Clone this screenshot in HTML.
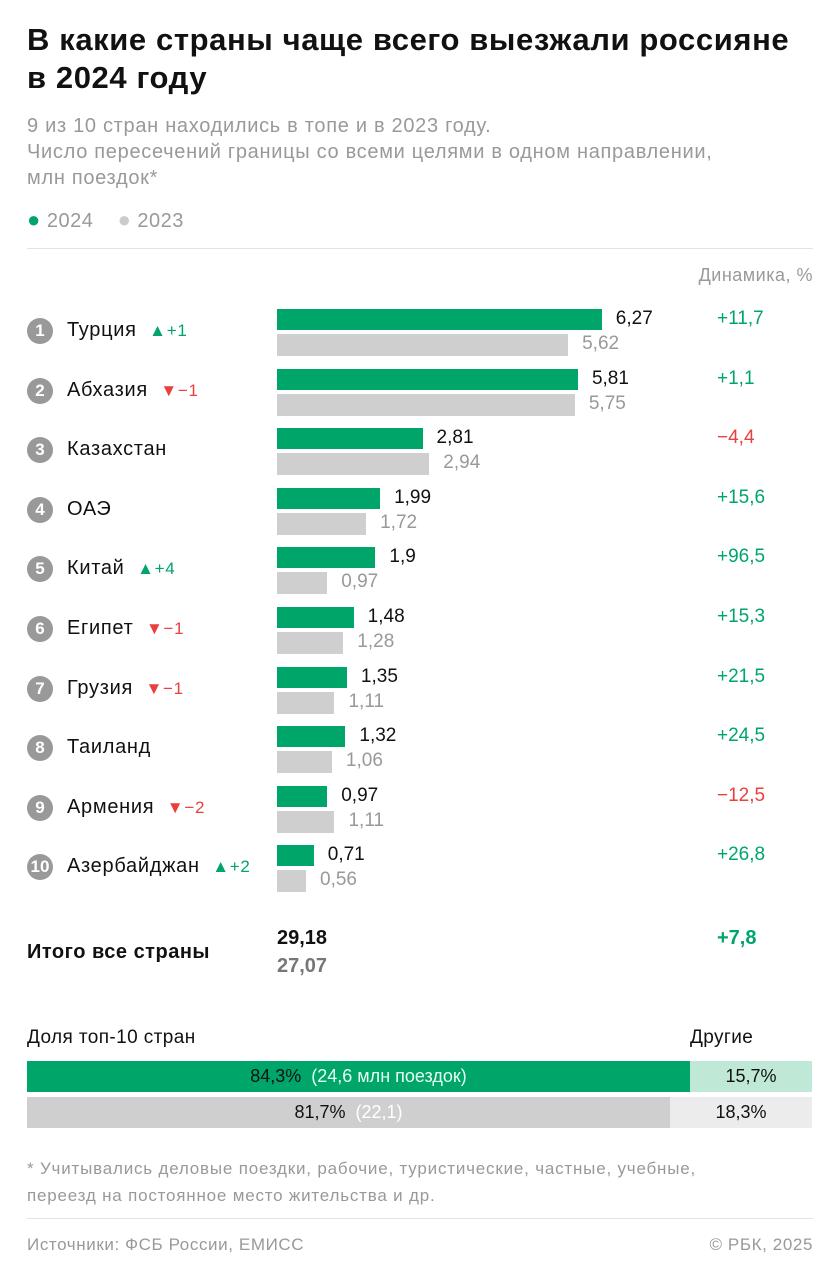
<!DOCTYPE html>
<html><head><meta charset="utf-8"><style>
*{margin:0;padding:0;box-sizing:border-box}
body{width:840px;height:1278px;background:#fff;font-family:"Liberation Sans",sans-serif;position:relative;overflow:hidden;color:#111}
.a{position:absolute;white-space:nowrap}
.g{color:#00a56a}.r{color:#e8403f}.gr{color:#999}
.c{width:26px;height:26px;border-radius:50%;background:#999;color:#fff;font-size:17px;font-weight:bold;text-align:center;line-height:26px}
.bg{background:#00a56a;height:21px}.bh{background:#cfcfcf;height:22px}
</style></head><body>
<div class="a" style="left:27px;top:21px;font-size:31px;font-weight:bold;line-height:38px;letter-spacing:0.6px">В какие страны чаще всего выезжали россияне<br>в 2024 году</div>
<div class="a" style="left:27px;top:113px;font-size:20px;line-height:26px;color:#999;letter-spacing:0.7px">9 из 10 стран находились в топе и в 2023 году.<br>Число пересечений границы со всеми целями в одном направлении,<br>млн поездок*</div>
<div class="a" style="left:27px;top:207px;font-size:20px;color:#999;letter-spacing:0.5px"><span class="g" style="font-size:22px">●</span> 2024 &nbsp;&nbsp; <span style="color:#ccc;font-size:22px">●</span> 2023</div>
<div class="a" style="left:27px;top:248px;width:786px;height:1px;background:#e3e3e3"></div>
<div class="a" style="right:27px;top:265px;font-size:18px;color:#999;letter-spacing:0.5px">Динамика, %</div>
<div id="rows"></div>
<div class="a" style="left:27px;top:941px;font-size:20px;font-weight:bold;letter-spacing:0.5px">Итого все страны</div>
<div class="a" style="left:277px;top:927px;font-size:20px;font-weight:bold">29,18</div>
<div class="a" style="left:277px;top:955px;font-size:20px;font-weight:bold;color:#777">27,07</div>
<div class="a g" style="left:717px;top:927px;font-size:20px;font-weight:bold">+7,8</div>
<div class="a" style="left:27px;top:1027px;font-size:19px;letter-spacing:0.4px">Доля топ-10 стран</div>
<div class="a" style="left:690px;top:1027px;font-size:19px;letter-spacing:0.4px">Другие</div>
<div class="a" style="left:27px;top:1061px;width:663px;height:31px;background:#00a56a;text-align:center;line-height:31px;font-size:18px">84,3% &nbsp;<span style="color:#e6fff3">(24,6 млн поездок)</span></div>
<div class="a" style="left:690px;top:1061px;width:122px;height:31px;background:#bfe9d6;text-align:center;line-height:31px;font-size:18px">15,7%</div>
<div class="a" style="left:27px;top:1097px;width:643px;height:31px;background:#cfcfcf;text-align:center;line-height:31px;font-size:18px">81,7% &nbsp;<span style="color:#fff">(22,1)</span></div>
<div class="a" style="left:670px;top:1097px;width:142px;height:31px;background:#ececec;text-align:center;line-height:31px;font-size:18px">18,3%</div>
<div class="a" style="left:27px;top:1155px;font-size:17px;line-height:27px;color:#999;letter-spacing:0.8px">* Учитывались деловые поездки, рабочие, туристические, частные, учебные,<br>переезд на постоянное место жительства и др.</div>
<div class="a" style="left:27px;top:1218px;width:786px;height:1px;background:#e3e3e3"></div>
<div class="a" style="left:27px;top:1235px;font-size:17px;color:#999;letter-spacing:0.6px">Источники: ФСБ России, ЕМИСС</div>
<div class="a" style="right:27px;top:1235px;font-size:17px;color:#999;letter-spacing:0.6px">© РБК, 2025</div>
<script>
var d=[["Турция","+1",6.27,5.62,"+11,7"],["Абхазия","−1",5.81,5.75,"+1,1"],["Казахстан","",2.81,2.94,"−4,4"],["ОАЭ","",1.99,1.72,"+15,6"],["Китай","+4",1.9,0.97,"+96,5"],["Египет","−1",1.48,1.28,"+15,3"],["Грузия","−1",1.35,1.11,"+21,5"],["Таиланд","",1.32,1.06,"+24,5"],["Армения","−2",0.97,1.11,"−12,5"],["Азербайджан","+2",0.71,0.56,"+26,8"]];
var h="",k=51.8;
d.forEach(function(r,i){var t=309+i*59.6,f=function(v){return String(v).replace(".",",")};
h+='<div class="a c" style="left:27px;top:'+(t+9)+'px">'+(i+1)+'</div>';
var ch=r[1]?(' &nbsp;<span style="font-size:17px" class="'+(r[1][0]=="+"?"g":"r")+'">'+(r[1][0]=="+"?"▲":"▼")+r[1]+'</span>'):"";
h+='<div class="a" style="left:67px;top:'+(t+10)+'px;font-size:20px;letter-spacing:0.7px">'+r[0]+ch+'</div>';
h+='<div class="a bg" style="left:277px;top:'+t+'px;width:'+r[2]*k+'px"></div>';
h+='<div class="a bh" style="left:277px;top:'+(t+25)+'px;width:'+r[3]*k+'px"></div>';
h+='<div class="a" style="left:'+(291+r[2]*k)+'px;top:'+(t-1)+'px;font-size:19px">'+f(r[2])+'</div>';
h+='<div class="a gr" style="left:'+(291+r[3]*k)+'px;top:'+(t+24)+'px;font-size:19px">'+f(r[3])+'</div>';
h+='<div class="a '+(r[4][0]=="+"?"g":"r")+'" style="left:717px;top:'+(t-1)+'px;font-size:19px">'+r[4]+'</div>';});
document.getElementById("rows").innerHTML=h;
</script>
</body></html>
